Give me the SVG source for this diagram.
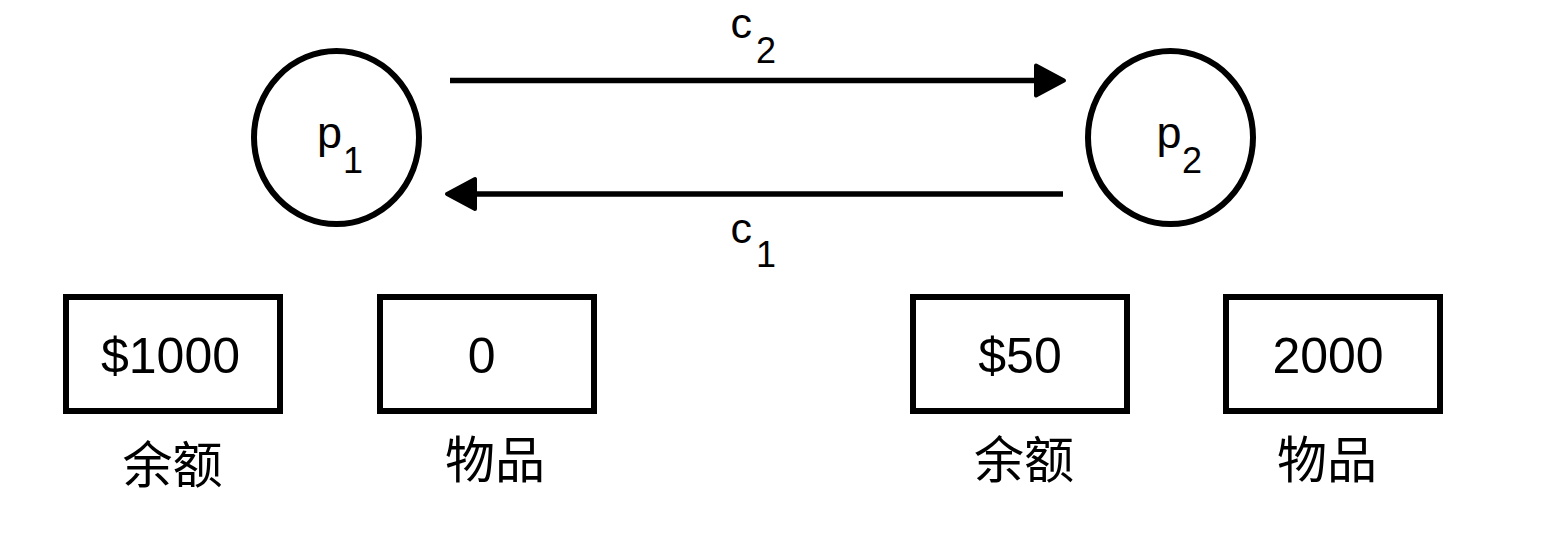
<svg xmlns="http://www.w3.org/2000/svg" width="1544" height="534" viewBox="0 0 1544 534">
<style>
.shape{fill:#fff;stroke:#000;stroke-width:6}
.box{fill:#fff;stroke:#000;stroke-width:6}
.edge{fill:none;stroke:#000;stroke-width:5.5}
.lat{font-family:"Liberation Sans",Arial,Helvetica,sans-serif;fill:#000}
.cjk{font-family:"Noto Sans CJK SC","Noto Sans CJK TC",sans-serif;fill:#000;font-size:50px;text-anchor:middle}
.val{font-size:50px;text-anchor:middle}
</style>
<defs>
<marker id="arr" markerUnits="userSpaceOnUse" markerWidth="44" markerHeight="44" viewBox="-4 -22 44 44" refX="0" refY="0" orient="auto">
<path d="M0,-15 L28,0 L0,15 Z" fill="#000" stroke="#000" stroke-width="4" stroke-linejoin="round"/>
</marker>
</defs>
<rect width="1544" height="534" fill="#fff"/>
<g id="p1">
<ellipse class="shape" cx="336.5" cy="137.5" rx="82.5" ry="86.5"/>
<text class="lat" x="317" y="148" font-size="45">p</text>
<text class="lat" x="343" y="172.5" font-size="36">1</text>
</g>
<g id="p2">
<ellipse class="shape" cx="1170.5" cy="137.5" rx="82.5" ry="86.5"/>
<text class="lat" x="1156.5" y="148" font-size="45">p</text>
<text class="lat" x="1182" y="172.5" font-size="36">2</text>
</g>
<g id="connectors">
<line class="edge" x1="450" y1="80.5" x2="1036" y2="80.5" marker-end="url(#arr)"/>
<line class="edge" x1="1063" y1="194" x2="475" y2="194" marker-end="url(#arr)"/>
<text class="lat" x="730.4" y="38.3" font-size="43">c</text>
<text class="lat" x="756" y="63.3" font-size="36">2</text>
<text class="lat" x="730.4" y="243.3" font-size="43">c</text>
<text class="lat" x="756" y="266.7" font-size="36">1</text>
</g>
<g id="balance1">
<rect class="box" x="66" y="297" width="214" height="114"/>
<text class="lat val" x="170.5" y="373.3">$1000</text>
</g>
<text class="cjk" x="172.5" y="483">余额</text>
<g id="goods1">
<rect class="box" x="380" y="297" width="214" height="114"/>
<text class="lat val" x="481.7" y="373.3">0</text>
</g>
<text class="cjk" x="495" y="478">物品</text>
<g id="balance2">
<rect class="box" x="913" y="297" width="214" height="114"/>
<text class="lat val" x="1020" y="373.3">$50</text>
</g>
<text class="cjk" x="1024" y="478">余额</text>
<g id="goods2">
<rect class="box" x="1226" y="297" width="214" height="114"/>
<text class="lat val" x="1328" y="373.3">2000</text>
</g>
<text class="cjk" x="1327" y="478">物品</text>
</svg>
